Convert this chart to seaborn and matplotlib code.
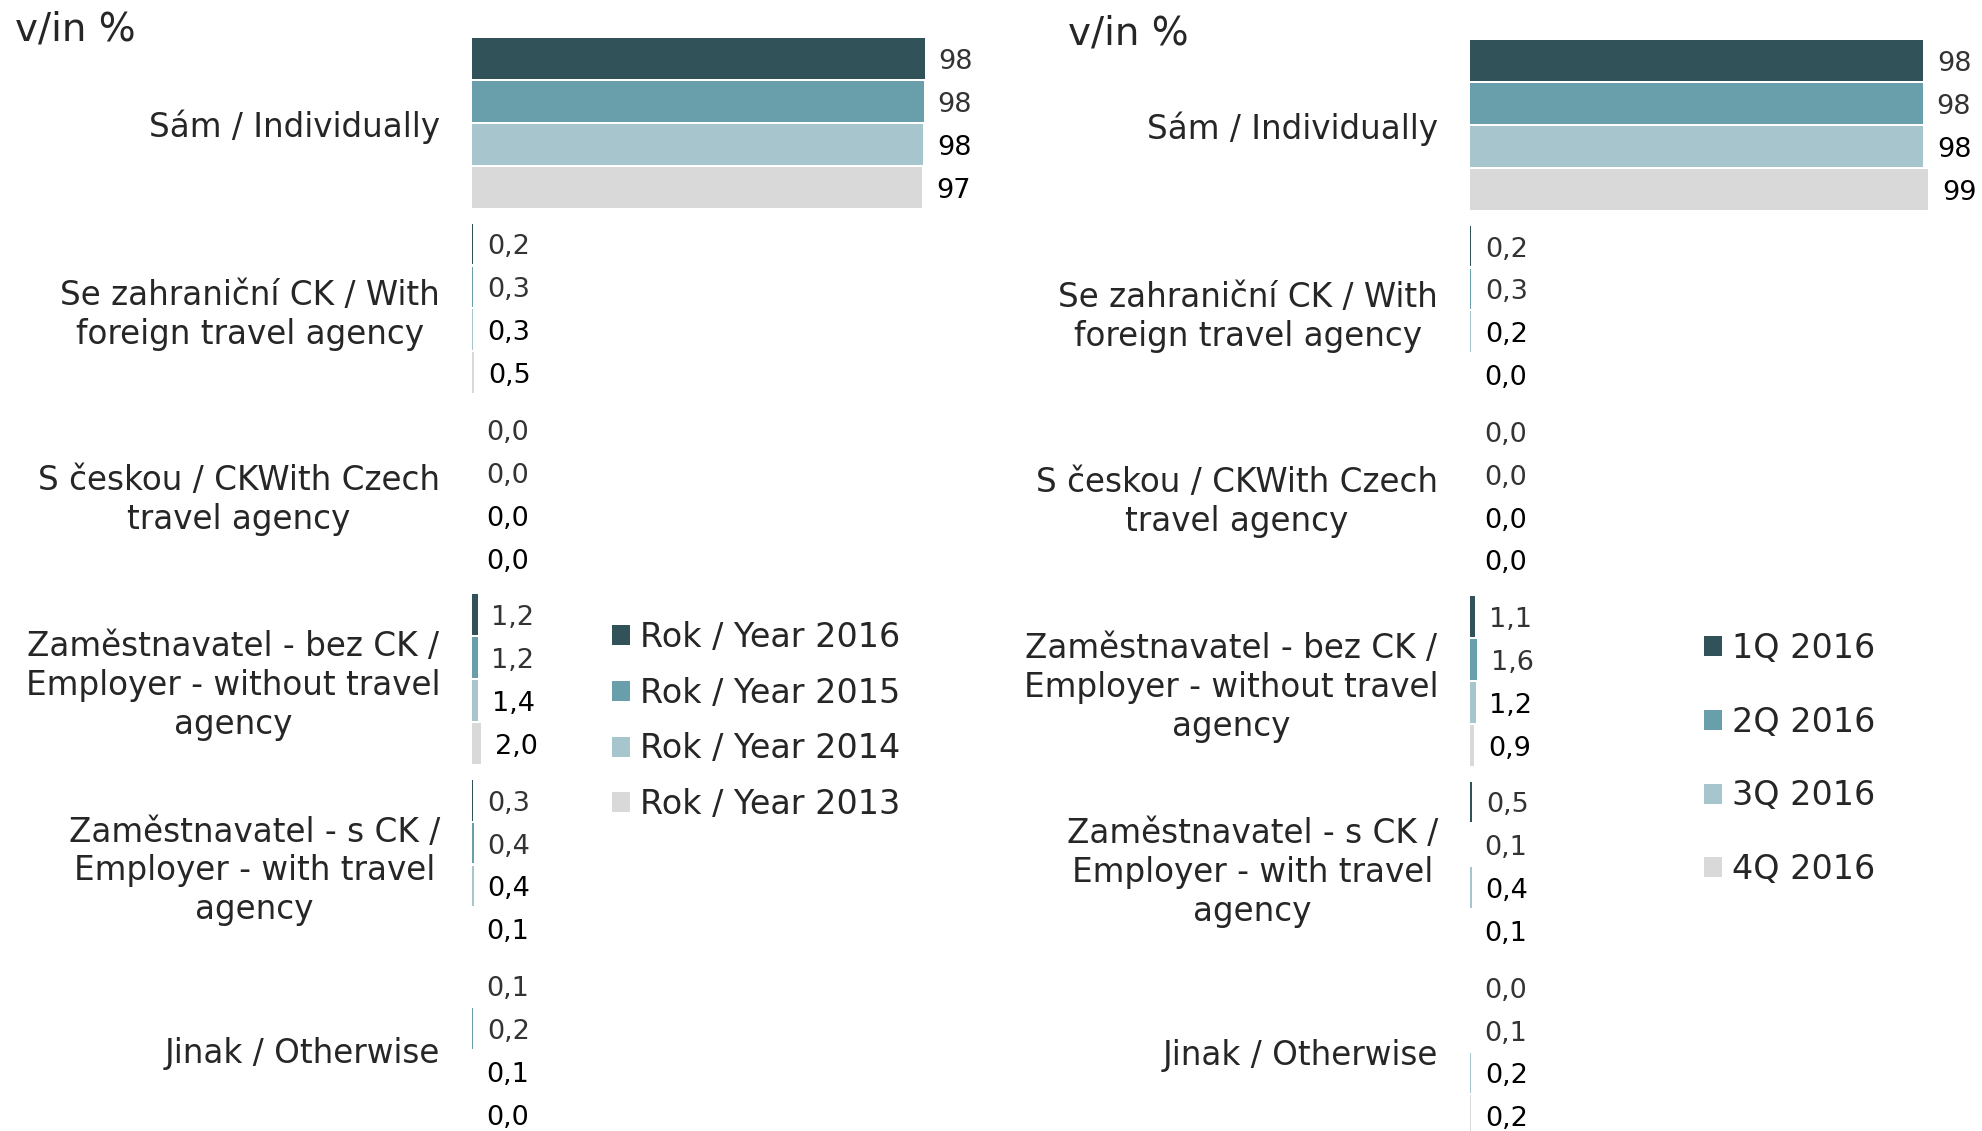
import pandas as pd
import matplotlib.pyplot as plt
import seaborn as sns
from matplotlib.patches import Patch

categories = [
    'Sám / Individually',
    'Se zahraniční CK / With\nforeign travel agency',
    'S českou / CKWith Czech\ntravel agency',
    'Zaměstnavatel - bez CK /\nEmployer - without travel\nagency',
    'Zaměstnavatel - s CK /\nEmployer - with travel\nagency',
    'Jinak / Otherwise',
]

# left panel: years
years = ['Rok / Year 2016', 'Rok / Year 2015', 'Rok / Year 2014', 'Rok / Year 2013']
y2016 = [97.8, 0.2, 0.0, 1.2, 0.3, 0.1]
y2015 = [97.6, 0.3, 0.0, 1.2, 0.4, 0.2]
y2014 = [97.5, 0.3, 0.0, 1.4, 0.4, 0.1]
y2013 = [97.3, 0.5, 0.0, 2.0, 0.1, 0.0]

# right panel: quarters 2016
quarters = ['1Q 2016', '2Q 2016', '3Q 2016', '4Q 2016']
q1 = [98.0, 0.2, 0.0, 1.1, 0.5, 0.0]
q2 = [97.8, 0.3, 0.0, 1.6, 0.1, 0.1]
q3 = [97.9, 0.2, 0.0, 1.2, 0.4, 0.2]
q4 = [99.0, 0.0, 0.0, 0.9, 0.1, 0.2]

colors = ['#315259', '#699EAB', '#A6C5CC', '#D9D9D9']
label_colors = ['#333333', '#333333', '#000000', '#000000']

W, H = 1982, 1131
plt.rcParams['font.family'] = ['DejaVu Sans']
fig = plt.figure(figsize=(W / 100, H / 100), dpi=100)


def fmt(v):
    if v >= 10:
        return f'{v:.0f}'
    return f'{v:.1f}'.replace('.', ',')


def panel(ax, names, series, ylim):
    rows = []
    for name, vals in zip(names, series):
        for cat, v in zip(categories, vals):
            rows.append({'category': cat, 'series': name, 'value': v})
    df = pd.DataFrame(rows)
    sns.barplot(data=df, x='value', y='category', hue='series', hue_order=names,
                order=categories, orient='h', palette=colors, saturation=1,
                width=0.925, gap=0.05, linewidth=0, legend=False, ax=ax)
    for cont, vals, lc in zip(ax.containers, series, label_colors):
        labels = ax.bar_label(cont, labels=[fmt(v) for v in vals], padding=10,
                              fontsize=19.5, color=lc)
        for t in labels:
            t.xyann = (t.xyann[0], -2.5)
    ax.set_xlim(0, 110)
    ax.set_ylim(*ylim)
    ax.xaxis.set_visible(False)
    ax.set_ylabel('')
    for s in ax.spines.values():
        s.set_visible(False)
    ax.tick_params(axis='y', length=0, pad=23, labelsize=23.5, labelcolor='#262626')
    for lbl in ax.get_yticklabels():
        lbl.set_multialignment('center')
        lbl.set_linespacing(1.22)
    ax.patch.set_alpha(0)


ax1 = fig.add_axes([472 / W, 0, 509 / W, 1])
panel(ax1, years, [y2016, y2015, y2014, y2013], (5.437, -0.663))
ax2 = fig.add_axes([1470 / W, 0, 509 / W, 1])
panel(ax2, quarters, [q1, q2, q3, q4], (5.429, -0.675))

fig.text(15 / W, 1 - 30 / H, 'v/in %', va='center', ha='left', fontsize=28, color='#262626')
fig.text(1068 / W, 1 - 34 / H, 'v/in %', va='center', ha='left', fontsize=28, color='#262626')

ax1.legend(handles=[Patch(facecolor=c) for c in colors], labels=years,
           loc='center left', bbox_to_anchor=(612 / W, 1 - 721 / H),
           bbox_transform=fig.transFigure, frameon=False, fontsize=24,
           handlelength=0.55, handleheight=0.55, handletextpad=0.3,
           labelspacing=0.68, borderpad=0, borderaxespad=0, labelcolor='#262626')
ax2.legend(handles=[Patch(facecolor=c) for c in colors], labels=quarters,
           loc='center left', bbox_to_anchor=(1704 / W, 1 - 759 / H),
           bbox_transform=fig.transFigure, frameon=False, fontsize=24,
           handlelength=0.55, handleheight=0.55, handletextpad=0.3,
           labelspacing=1.22, borderpad=0, borderaxespad=0, labelcolor='#262626')

fig.savefig('out.png', dpi=100)
